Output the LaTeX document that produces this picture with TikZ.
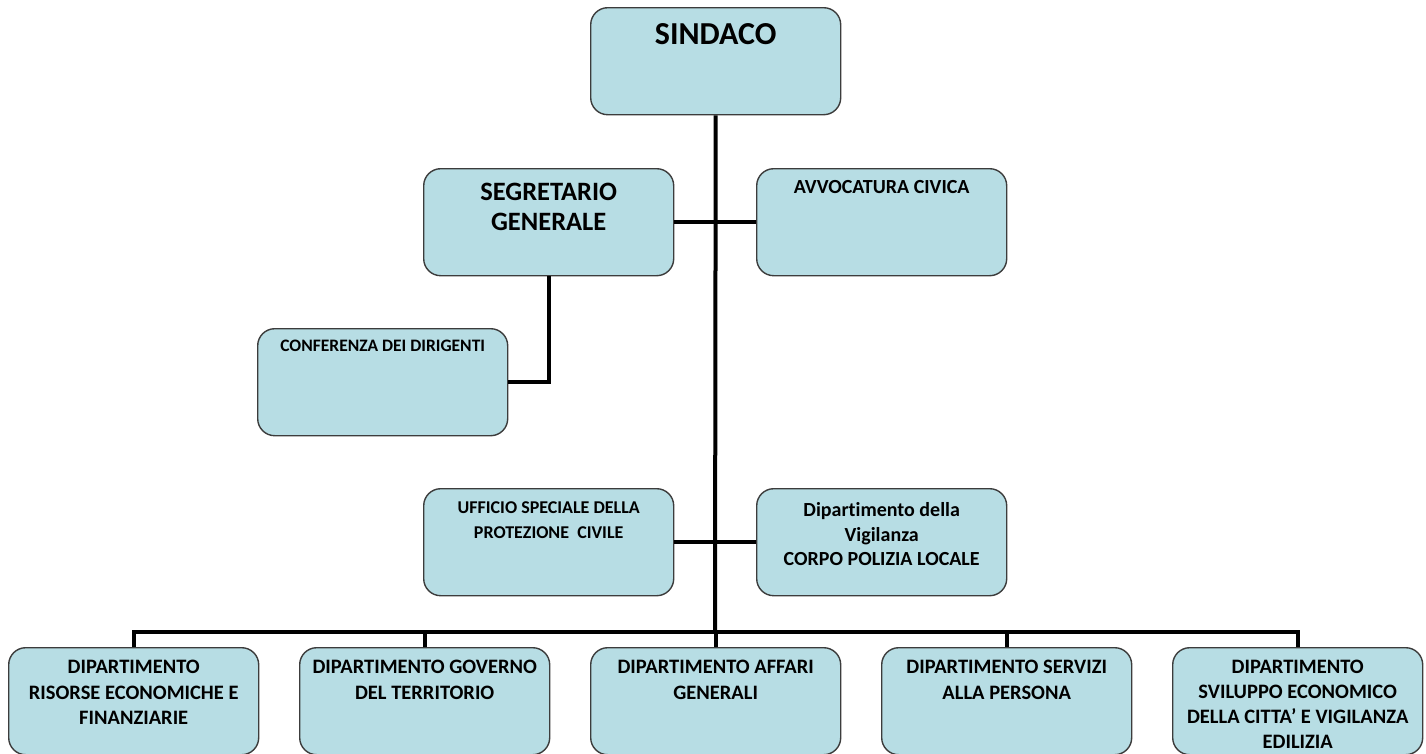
\documentclass[tikz,border=0pt]{standalone}
\usepackage{fontspec}
\setmainfont{Carlito}[Ligatures=NoCommon]
\definecolor{azzurro}{RGB}{183,221,228}
\definecolor{bordo}{RGB}{60,60,60}
\newcommand{\voce}[2]{\parbox[t][107pt][t]{250pt}{\centering\rule{0pt}{#1}#2}}
\tikzset{
	casella/.style={draw=bordo, fill=azzurro, line width=1.4pt, rounded corners=17pt, inner sep=0pt, anchor=north west},
	linea/.style={line width=4pt, black}
}
\begin{document}
\begin{tikzpicture}[x=1pt, y=1pt]
	\useasboundingbox (0,0) rectangle (1426,-753);
	\node[casella, font=\bfseries\fontsize{32pt}{38pt}\selectfont] (sindaco) at (590,-7) {\voce{37pt}{SINDACO}};
	\node[casella, font=\bfseries\fontsize{26.5pt}{30pt}\selectfont] (segr) at (423,-168) {\voce{32pt}{SEGRETARIO\\GENERALE}};
	\node[casella, font=\bfseries\fontsize{20pt}{24pt}\selectfont] (avv) at (756,-168) {\voce{25pt}{AVVOCATURA CIVICA}};
	\node[casella, font=\bfseries\fontsize{17.5pt}{22pt}\selectfont] (conf) at (257,-328) {\voce{23pt}{CONFERENZA DEI DIRIGENTI}};
	\node[casella, font=\bfseries\fontsize{18pt}{25pt}\selectfont] (uff) at (423,-488) {\voce{25pt}{UFFICIO SPECIALE DELLA\\PROTEZIONE\ \ CIVILE}};
	\node[casella, font=\bfseries\fontsize{20pt}{24.5pt}\selectfont] (vig) at (756,-488) {\voce{28pt}{Dipartimento della\\Vigilanza\\CORPO POLIZIA LOCALE}};
	\node[casella, font=\bfseries\fontsize{20.5pt}{25.5pt}\selectfont] (d1) at (8,-647) {\voce{26pt}{DIPARTIMENTO\\RISORSE ECONOMICHE E\\FINANZIARIE}};
	\node[casella, font=\bfseries\fontsize{20.5pt}{25.5pt}\selectfont] (d2) at (299,-647) {\voce{26pt}{DIPARTIMENTO GOVERNO\\DEL TERRITORIO}};
	\node[casella, font=\bfseries\fontsize{20.5pt}{25.5pt}\selectfont] (d3) at (590,-647) {\voce{26pt}{DIPARTIMENTO AFFARI\\GENERALI}};
	\node[casella, font=\bfseries\fontsize{20.5pt}{25.5pt}\selectfont] (d4) at (881,-647) {\voce{26pt}{DIPARTIMENTO SERVIZI\\ALLA PERSONA}};
	\node[casella, font=\bfseries\fontsize{20.5pt}{25pt}\selectfont] (d5) at (1172,-647) {\voce{26pt}{DIPARTIMENTO\\SVILUPPO ECONOMICO\\DELLA CITTA’ E VIGILANZA\\EDILIZIA}};
	\coordinate (bus) at (715,-632);
	\draw[linea] (sindaco.south) -- (bus);
	\draw[linea] (segr.east) -- (avv.west);
	\draw[linea] (uff.east) -- (vig.west);
	\draw[linea] (segr.south) |- (conf.east);
	\draw[linea] (d1.north) |- (bus) -| (d5.north);
	\foreach \d in {d2,d3,d4}
		\draw[linea] (\d.north) -- (\d.north |- bus);
\end{tikzpicture}
\end{document}
